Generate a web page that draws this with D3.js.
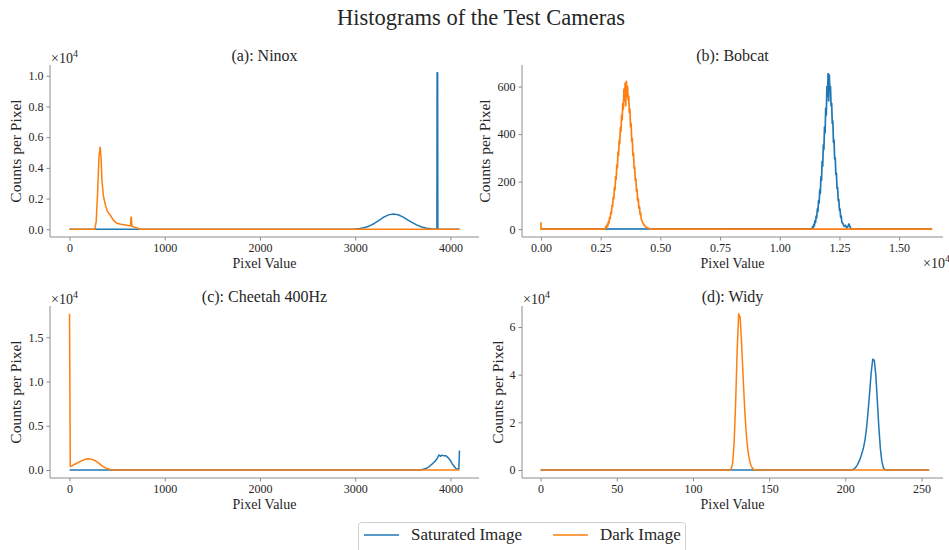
<!DOCTYPE html>
<html>
<head>
<meta charset="utf-8">
<script src="https://cdn.jsdelivr.net/npm/d3@7"></script>
<style>
  body { margin: 0; background: #fff; }
  svg { font-family: "Liberation Serif", "DejaVu Serif", serif; }
  .spine { stroke: #8c8c8c; stroke-width: 1; }
  .tick line { stroke: #8c8c8c; }
  .domain { display: none; }
</style>
</head>
<body>
<div id="chart"></div>
<script>
// series colours / names
const seriesNames = ['Saturated Image', 'Dark Image'];
const seriesColors = ['#1f77b4', '#ff7f0e'];

// (a) Ninox
const ninoxSatX = [0, 2950, 3000, 3050, 3100, 3150, 3200, 3250, 3300, 3350, 3400, 3450, 3500, 3550, 3600, 3650, 3700, 3750, 3800, 3858, 3860, 3866, 3868, 4095];
const ninoxSatY = [0, 0, 25, 60, 120, 220, 380, 580, 790, 940, 1000, 950, 810, 620, 430, 270, 150, 75, 30, 10, 10190, 10190, 0, 0];
const ninoxDarkX = [0, 265, 280, 295, 310, 322, 332, 340, 357, 380, 400, 427, 460, 497, 540, 600, 640, 645, 650, 655, 700, 742, 800, 4095];
const ninoxDarkY = [0, 0, 500, 2400, 4800, 5350, 4600, 3200, 2120, 1500, 1150, 930, 600, 390, 330, 260, 220, 780, 780, 200, 110, 0, 0, 0];

// (b) Bobcat
const bobcatSatX = [0, 11350, 11375, 11400, 11425, 11450, 11475, 11500, 11525, 11550, 11575, 11600, 11625, 11650, 11675, 11700, 11725, 11750, 11775, 11800, 11825, 11850, 11875, 11900, 11925, 11950, 11975, 12000, 12025, 12050, 12075, 12100, 12125, 12150, 12175, 12200, 12225, 12250, 12275, 12300, 12325, 12350, 12375, 12400, 12425, 12450, 12475, 12500, 12525, 12550, 12575, 12600, 12650, 12700, 12750, 12800, 12850, 12900, 12950, 13000, 16383];
const bobcatSatY = [0, 2, 10, 5, 20, 14, 35, 28, 55, 48, 85, 75, 120, 110, 165, 150, 220, 205, 285, 265, 355, 335, 430, 405, 510, 480, 600, 560, 655, 540, 650, 590, 600, 520, 530, 445, 455, 365, 375, 295, 300, 230, 235, 170, 175, 120, 125, 80, 85, 50, 55, 30, 22, 12, 16, 6, 10, 22, 8, 0, 0];
const bobcatDarkX = [0, 1, 60, 2650, 2700, 2725, 2750, 2775, 2800, 2825, 2850, 2875, 2900, 2925, 2950, 2975, 3000, 3025, 3050, 3075, 3100, 3125, 3150, 3175, 3200, 3225, 3250, 3275, 3300, 3325, 3350, 3375, 3400, 3425, 3450, 3475, 3500, 3525, 3550, 3575, 3600, 3625, 3650, 3675, 3700, 3725, 3750, 3775, 3800, 3825, 3850, 3875, 3900, 3925, 3950, 3975, 4000, 4025, 4050, 4075, 4100, 4125, 4150, 4175, 4200, 4250, 4300, 4350, 4400, 4450, 4500, 4640, 16383];
const bobcatDarkY = [29, 0, 0, 0, 4, 12, 6, 20, 14, 32, 26, 50, 44, 72, 66, 100, 96, 135, 128, 175, 165, 220, 210, 270, 258, 325, 310, 375, 360, 430, 410, 480, 460, 530, 505, 590, 540, 615, 520, 622, 560, 600, 545, 560, 490, 505, 430, 445, 370, 380, 310, 320, 255, 262, 205, 212, 160, 168, 120, 128, 88, 95, 62, 68, 42, 30, 20, 14, 9, 6, 4, 0, 0];

// (c) Cheetah 400Hz
const cheetahSatX = [0, 3650, 3700, 3750, 3780, 3810, 3840, 3860, 3880, 3895, 3910, 3930, 3950, 3980, 4000, 4020, 4040, 4060, 4088, 4095];
const cheetahSatY = [0, 0, 40, 200, 420, 700, 1000, 1300, 1700, 1550, 1680, 1600, 1620, 1350, 1050, 700, 400, 150, 100, 2210];
const cheetahDarkX = [0, 8, 30, 60, 100, 150, 190, 230, 270, 310, 350, 390, 430, 480, 550, 4095];
const cheetahDarkY = [17650, 400, 500, 680, 900, 1150, 1280, 1230, 1050, 750, 420, 180, 50, 10, 0, 0];

// (d) Widy
const widySatX = [0, 204, 205, 206, 207, 208, 209, 210, 211, 212, 213, 214, 215, 216, 217, 218, 219, 220, 221, 222, 223, 224, 225, 226, 227, 255];
const widySatY = [0, 0, 200, 600, 1300, 2300, 3600, 5200, 7200, 9600, 13000, 18000, 25000, 33000, 41000, 46500, 46000, 40000, 29000, 18000, 9000, 3500, 900, 100, 0, 0];
const widyDarkX = [0, 124, 125, 126, 127, 128, 129, 130, 131, 132, 133, 134, 135, 136, 137, 138, 139, 140, 141, 255];
const widyDarkY = [0, 0, 300, 2500, 11000, 28000, 50000, 65500, 64000, 52000, 38000, 25000, 15000, 8500, 4500, 2000, 800, 200, 0, 0];

// tick values and labels
const ticks4096 = [0, 1000, 2000, 3000, 4000];
const ticks4096Labels = ['0', '1000', '2000', '3000', '4000'];
const bobcatXTicks = [0, 2500, 5000, 7500, 10000, 12500, 15000];
const bobcatXLabels = ['0.00', '0.25', '0.50', '0.75', '1.00', '1.25', '1.50'];
const widyXTicks = [0, 50, 100, 150, 200, 250];
const widyXLabels = ['0', '50', '100', '150', '200', '250'];
const ninoxYTicks = [0, 2000, 4000, 6000, 8000, 10000];
const ninoxYLabels = ['0.0', '0.2', '0.4', '0.6', '0.8', '1.0'];
const bobcatYTicks = [0, 200, 400, 600];
const bobcatYLabels = ['0', '200', '400', '600'];
const cheetahYTicks = [0, 5000, 10000, 15000];
const cheetahYLabels = ['0.0', '0.5', '1.0', '1.5'];
const widyYTicks = [0, 20000, 40000, 60000];
const widyYLabels = ['0', '2', '4', '6'];

const w = 949, h = 550;
const serif = '"Liberation Serif", "DejaVu Serif", serif';
const svg = d3.select('#chart').append('svg').attr('width', w).attr('height', h);

const panels = [
  {title: '(a): Ninox', box: [50, 479, 65, 237], xd: [-205, 4300], yd: [-501, 10697],
   series: [[ninoxSatX, ninoxSatY], [ninoxDarkX, ninoxDarkY]],
   xt: ticks4096, xl: ticks4096Labels, yt: ninoxYTicks, yl: ninoxYLabels,
   ylabX: 21, yOffset: true, xOffset: false},
  {title: '(b): Bobcat', box: [522, 943, 65, 237], xd: [-795, 16838], yd: [-33, 691],
   series: [[bobcatSatX, bobcatSatY], [bobcatDarkX, bobcatDarkY]],
   xt: bobcatXTicks, xl: bobcatXLabels, yt: bobcatYTicks, yl: bobcatYLabels,
   ylabX: 490, yOffset: false, xOffset: true, lw: 1.7},
  {title: '(c): Cheetah 400Hz', box: [50, 479, 306, 478], xd: [-205, 4300], yd: [-902, 18530],
   series: [[cheetahSatX, cheetahSatY], [cheetahDarkX, cheetahDarkY]],
   xt: ticks4096, xl: ticks4096Labels, yt: cheetahYTicks, yl: cheetahYLabels,
   ylabX: 21, yOffset: true, xOffset: false},
  {title: '(d): Widy', box: [522, 943, 306, 478], xd: [-12.2, 264.1], yd: [-3350, 68794],
   series: [[widySatX, widySatY], [widyDarkX, widyDarkY]],
   xt: widyXTicks, xl: widyXLabels, yt: widyYTicks, yl: widyYLabels,
   ylabX: 503, yOffset: true, xOffset: false}
];

function styleAxis(sel) {
  sel.attr('font-family', null).attr('font-size', null);
  sel.selectAll('text')
    .style('font-family', serif)
    .style('font-size', '12px')
    .attr('fill', '#262626');
}

panels.forEach(p => {
  const [x0, x1, y0, y1] = p.box;
  const xScale = d3.scaleLinear().domain(p.xd).range([x0, x1]);
  const yScale = d3.scaleLinear().domain(p.yd).range([y1, y0]);
  const g = svg.append('g');

  //lines
  p.series.forEach((s, i) => {
    const pts = s[0].map((v, j) => [v, s[1][j]]);
    g.append('path')
      .datum(pts)
      .attr('fill', 'none')
      .attr('stroke', seriesColors[i])
      .attr('stroke-width', p.lw || 1.5)
      .attr('stroke-linejoin', 'round')
      .attr('d', d3.line().x(d => xScale(d[0])).y(d => yScale(d[1])));
  });

  //x-Axis
  g.append('g')
    .attr('transform', 'translate(0,' + y1 + ')')
    .call(d3.axisBottom(xScale).tickValues(p.xt).tickFormat((d, i) => p.xl[i]).tickSize(3.5).tickPadding(3))
    .call(styleAxis);
  //y-Axis
  g.append('g')
    .attr('transform', 'translate(' + x0 + ',0)')
    .call(d3.axisLeft(yScale).tickValues(p.yt).tickFormat((d, i) => p.yl[i]).tickSize(3.5).tickPadding(3))
    .call(styleAxis);

  //spines
  g.append('line').attr('class', 'spine').attr('x1', x0).attr('x2', x0).attr('y1', y0).attr('y2', y1);
  g.append('line').attr('class', 'spine').attr('x1', x0).attr('x2', x1).attr('y1', y1).attr('y2', y1);

  //title
  g.append('text').text(p.title)
    .attr('x', (x0 + x1) / 2).attr('y', y0 - 4.5)
    .attr('text-anchor', 'middle').attr('font-size', 16).attr('fill', '#262626');
  //x-label
  g.append('text').text('Pixel Value')
    .attr('x', (x0 + x1) / 2).attr('y', y1 + 31)
    .attr('text-anchor', 'middle').attr('font-size', 14).attr('fill', '#262626');
  //y-label
  g.append('text').text('Counts per Pixel')
    .attr('transform', 'translate(' + p.ylabX + ',' + (y0 + y1) / 2 + ') rotate(-90)')
    .attr('text-anchor', 'middle').attr('font-size', 15.5).attr('fill', '#262626');

  //offset labels
  if (p.yOffset) {
    const t = g.append('text').attr('x', x0 + 1).attr('y', y0 - 2.5).attr('font-size', 14).attr('fill', '#262626');
    t.append('tspan').text('\u00d710');
    t.append('tspan').text('4').attr('font-size', 10).attr('dy', -6);
  }
  if (p.xOffset) {
    const t = g.append('text').attr('x', x1 - 20).attr('y', y1 + 31).attr('font-size', 14).attr('fill', '#262626');
    t.append('tspan').text('\u00d710');
    t.append('tspan').text('4').attr('font-size', 10).attr('dy', -6);
  }
});

//main title
svg.append('text').text('Histograms of the Test Cameras')
  .attr('x', 481).attr('y', 25)
  .attr('text-anchor', 'middle').attr('font-size', 22.5).attr('fill', '#262626');

//legend
const legend = svg.append('g');
legend.append('rect')
  .attr('x', 358.5).attr('y', 522.5).attr('width', 327).attr('height', 40)
  .attr('rx', 3).attr('fill', '#fff').attr('stroke', '#d0d0d0');
const legendX = [364, 553];
seriesNames.forEach((name, i) => {
  legend.append('line')
    .attr('x1', legendX[i]).attr('x2', legendX[i] + 35)
    .attr('y1', 535).attr('y2', 535)
    .attr('stroke', seriesColors[i]).attr('stroke-width', 1.5);
  legend.append('text').text(name)
    .attr('x', legendX[i] + 47).attr('y', 540)
    .attr('font-size', 17).attr('fill', '#262626');
});
</script>
</body>
</html>
